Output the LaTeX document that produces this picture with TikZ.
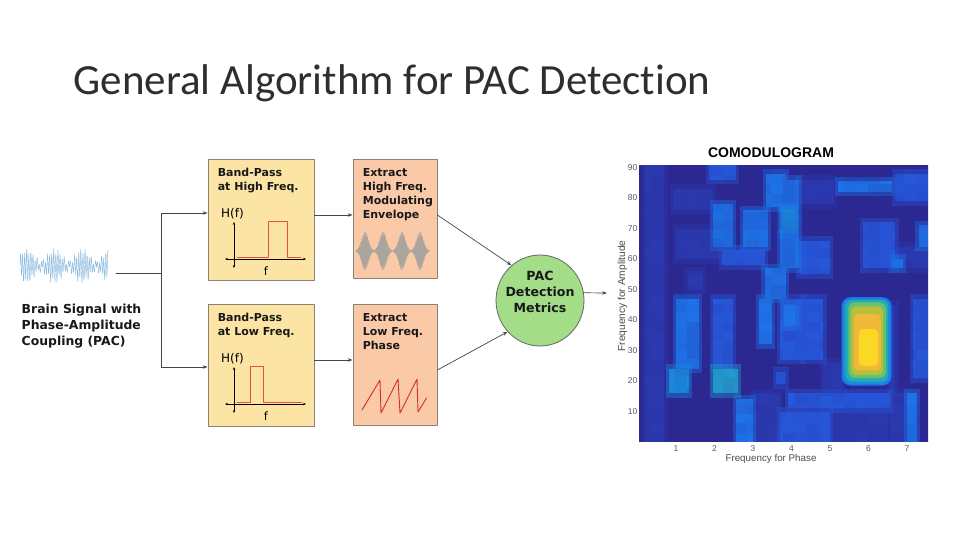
\documentclass[tikz,border=0pt]{standalone}
\usepackage{fontspec}
\setmainfont{DejaVu Sans}
\newfontfamily\titlefont[Ligatures=NoCommon]{Carlito}
\newfontfamily\plotfont{Liberation Sans}
\usetikzlibrary{arrows.meta,shapes.geometric}

\definecolor{bandfill}{RGB}{251,228,164}
\definecolor{extfill}{RGB}{250,201,168}
\definecolor{pacfill}{RGB}{163,221,136}
\definecolor{boxline}{RGB}{140,130,115}
\definecolor{connc}{RGB}{70,70,70}
\definecolor{sigc}{RGB}{140,188,224}
\definecolor{envc}{RGB}{172,165,158}
\definecolor{redc}{RGB}{232,80,55}
\definecolor{sawc}{RGB}{215,45,35}
\definecolor{cmA}{RGB}{44,40,145}
\definecolor{cmB}{RGB}{42,58,175}
\definecolor{cmC}{RGB}{38,88,218}
\definecolor{cmD}{RGB}{30,114,232}
\definecolor{cmE}{RGB}{26,140,224}
\definecolor{cmT}{RGB}{34,156,204}
\definecolor{cmF}{RGB}{36,172,176}
\definecolor{cmG}{RGB}{104,192,112}
\definecolor{cmH}{RGB}{182,192,58}
\definecolor{cmI}{RGB}{242,184,58}
\definecolor{cmJ}{RGB}{250,216,38}

\tikzset{
  bandbox/.style={draw=boxline, fill=bandfill, line width=0.8pt, inner sep=0pt,
    minimum width=106pt, minimum height=121pt},
  extbox/.style={draw=boxline, fill=extfill, line width=0.8pt, inner sep=0pt,
    minimum width=84pt, minimum height=119pt},
  boxtxt/.style={inner sep=0pt, align=left, text=black!90,
    font=\fontsize{11}{14.2}\selectfont\bfseries},
  conn/.style={draw=connc, line width=0.7pt, -{Stealth[length=5pt,width=3.5pt]}},
  axisln/.style={line width=0.5pt,
    {Stealth[length=3pt,width=2.4pt]}-{Stealth[length=3pt,width=2.4pt]}},
  redln/.style={draw=redc, line width=0.9pt},
  ticklbl/.style={inner sep=0pt, text=black!65, font=\plotfont\fontsize{8.5}{10}\selectfont},
}

\begin{document}
\begin{tikzpicture}[x=1pt,y=-1pt,line cap=round,line join=round]
  \useasboundingbox (0,0) rectangle (960,540);
  % 标题
  \node[anchor=base west, inner sep=0pt, text=black!82, font=\titlefont\fontsize{43}{50}\selectfont]
    (title) at (73.5,95) {General Algorithm for PAC Detection};
  % 脑信号
  \draw[sigc, line width=0.45pt] plot[domain=0:88, samples=230]
    (\x+20, {266 - (10+6*sin(13*\x))*sin(173*\x) - 3*sin(67*\x+20)});
  \node[anchor=north west, inner sep=0pt, align=left, text=black!90,
    font=\fontsize{12.4}{16}\selectfont\bfseries] (sigtxt) at (21.5,303.5)
    {Brain Signal with\\Phase-Amplitude\\Coupling (PAC)};
  \coordinate (sig) at (116,273);
  \coordinate (split) at (161,273);
  % 带通滤波框
  \node[bandbox] (bph) at (261,219.5) {};
  \node[bandbox, minimum height=122pt] (bpl) at (261,365) {};
  \node[boxtxt, anchor=north west] (bphtxt) at ([shift={(10pt,-9.5pt)}]bph.north west)
    {Band-Pass\\at High Freq.};
  \node[boxtxt, anchor=north west] (bpltxt) at ([shift={(10pt,-9.5pt)}]bpl.north west)
    {Band-Pass\\at Low Freq.};
  \node[anchor=base west, inner sep=0pt, font=\fontsize{12}{14}\selectfont] (hfh) at (221,217) {H(f)};
  \node[anchor=base west, inner sep=0pt, font=\fontsize{12}{14}\selectfont] (hfl) at (221,362) {H(f)};
  \node[anchor=base, inner sep=0pt, font=\fontsize{11.5}{14}\selectfont] (fh) at (266,275) {f};
  \node[anchor=base, inner sep=0pt, font=\fontsize{11.5}{14}\selectfont] (fl) at (266,420) {f};
  \draw[axisln] (225,259) -- (306,259);
  \draw[axisln] (234,222) -- (234,268);
  \draw[redln] (237,257) -- (268,257) -- (268,221) -- (287,221) -- (287,257) -- (301,257);
  \draw[axisln] (225,404) -- (306,404);
  \draw[axisln] (234,367) -- (234,413);
  \draw[redln] (237,402) -- (250,402) -- (250,366) -- (263,366) -- (263,402) -- (302,402);
  % 提取框
  \node[extbox] (exh) at (395,219) {};
  \node[extbox, minimum height=121pt] (exl) at (395,364.5) {};
  \node[boxtxt, anchor=north west] (exhtxt) at ([shift={(10pt,-9pt)}]exh.north west)
    {Extract\\High Freq.\\Modulating\\Envelope};
  \node[boxtxt, anchor=north west] (exltxt) at ([shift={(10pt,-9.5pt)}]exl.north west)
    {Extract\\Low Freq.\\Phase};
  \foreach \cx in {365,383,402,420} {
    \pgfmathsetmacro\da{\cx-9.5}
    \pgfmathsetmacro\db{\cx+9.5}
    \draw[envc, line width=0.6pt] plot[domain=\da:\db, samples=170]
      (\x, {251 - 19*exp(-((\x-\cx)/4.8)^2)*sin(320*(\x-\cx))});
  }
  \draw[sawc, line width=0.9pt] (362,410) -- (380,380) -- (381,413) -- (398,379)
    -- (400,413) -- (417,379) -- (418,412) -- (426.5,398);
  % PAC 椭圆
  \node[ellipse, draw=black!60, fill=pacfill, line width=0.8pt, inner sep=0pt,
    minimum width=88pt, minimum height=91pt] (pac) at (540,300.5) {};
  \node[inner sep=0pt, align=center, text=black!90, font=\fontsize{12.6}{16}\selectfont\bfseries]
    (pactxt) at ([yshift=9pt]pac.center) {PAC\\Detection\\Metrics};
  \coordinate (cmo) at (607,293);
  % 连线
  \draw[connc, line width=0.7pt] (sig) -- (split);
  \draw[conn] (split) |- ([yshift=6.5pt]bph.west);
  \draw[conn] (split) |- ([yshift=-2pt]bpl.west);
  \draw[conn] ([yshift=4.5pt]bph.east) -- ([yshift=4pt]exh.west);
  \draw[conn] ([yshift=5pt]bpl.east) -- ([yshift=4.5pt]exl.west);
  \draw[conn] ([yshift=4pt]exh.east) -- (pac.129);
  \draw[conn] ([yshift=-5.5pt]exl.east) -- (pac.224);
  \draw[conn] (pac.10) -- (cmo);
  % 调制图
  \node[anchor=base, inner sep=0pt, font=\plotfont\fontsize{14}{16}\selectfont\bfseries]
    (cmtitle) at (771,157.3) {COMODULOGRAM};
  \begin{scope}[shift={(637.5pt,-442pt)}, x=38.5pt, y=3.05pt]
    \begin{scope}
      \clip (0.04,0.07) rectangle (7.55,90.5);
      \fill[cmA] (0,0) rectangle (7.6,91);
      \foreach \xa/\ya/\xb/\yb/\c in {
        0.2/0/0.7/91/cmB, 0.92/76/1.96/83/cmB, 1.3/50/1.7/56/cmB, 1.0/60/2.2/70/cmB,
        4.2/78/5.1/86/cmB, 6.7/57/7.55/64/cmB, 5.0/0/6.5/11/cmB, 6.56/0/7.0/16/cmB,
        3.0/0/3.7/16/cmB, 6.56/16/6.7/45/cmB, 4.83/16/5.35/26/cmB,
        1.86/86/2.56/91/cmC, 6.7/79/7.55/88/cmC, 2.2/58/3.3/63/cmC, 4.2/55/5.0/66/cmC,
        5.85/57/6.7/72/cmC, 4.3/27/4.83/47/cmC, 3.9/11/6.55/16/cmC, 1.96/24/2.48/47/cmC,
        3.6/19/3.86/23/cmC, 7.16/21/7.55/47/cmC, 3.7/0/5.0/10/cmC, 3.7/27/4.3/47/cmC,
        1.0/24/1.6/47/cmD, 1.96/64/2.48/78/cmD, 2.74/64/3.4/76/cmD, 3.34/77/3.86/88/cmD,
        3.3/47/3.86/57/cmD, 3.7/57/4.2/86/cmD, 3.15/32/3.5/47/cmD, 2.56/0/3.0/14/cmD,
        7.0/0/7.25/16/cmD, 5.2/82/6.6/85.5/cmD, 7.3/64/7.55/71/cmD, 6.6/57/6.9/60/cmD,
        3.8/38/4.2/45/cmD,
        3.75/70/4.1/76/cmE, 0.82/16/1.34/24/cmE, 1.95/16/2.6/24/cmT} {
        \fill[\c, opacity=0.45] (\xa-0.08,\ya-1.5) rectangle (\xb+0.08,\yb+1.5);
        \fill[\c] (\xa,\ya) rectangle (\xb,\yb);
      }
      % 块状纹理
      \pgfmathsetseed{11}
      \foreach \i in {0,...,23} {
        \foreach \j in {0,...,29} {
          \pgfmathsetmacro\op{0.2*rnd}
          \fill[cmA, opacity=\op] (0.04+0.3125*\i,0.07+3.015*\j) rectangle ++(0.3125,3.015);
        }
      }
      \foreach \xa/\ya/\xb/\yb/\c/\r in {
        5.3/18.5/6.6/47.5/cmD/9pt, 5.34/19/6.56/47/cmE/8pt, 5.4/19.8/6.51/46.6/cmF/7pt,
        5.48/21/6.45/45.8/cmG/6pt, 5.55/22/6.38/44.5/cmH/5pt, 5.62/23.5/6.32/42/cmI/5pt,
        5.75/25/6.25/37/cmJ/4pt} {
        \fill[\c, rounded corners=\r] (\xa,\ya) rectangle (\xb,\yb);
      }
    \end{scope}
    \foreach \v in {10,20,...,90} {
      \node[ticklbl, anchor=east] (yt\v) at ([xshift=-1.5pt]0.04,\v) {\v};
    }
    \foreach \u in {1,...,7} {
      \node[ticklbl, anchor=north] (xt\u) at ([yshift=-3.5pt]\u,0.07) {\u};
    }
  \end{scope}
  \node[anchor=base, inner sep=0pt, text=black!70, font=\plotfont\fontsize{9.8}{12}\selectfont]
    (xlab) at (771,461.5) {Frequency for Phase};
  \node[rotate=90, inner sep=0pt, text=black!70, font=\plotfont\fontsize{10.2}{12}\selectfont]
    (ylab) at (622.5,296) {Frequency for Amplitude};
\end{tikzpicture}
\end{document}
